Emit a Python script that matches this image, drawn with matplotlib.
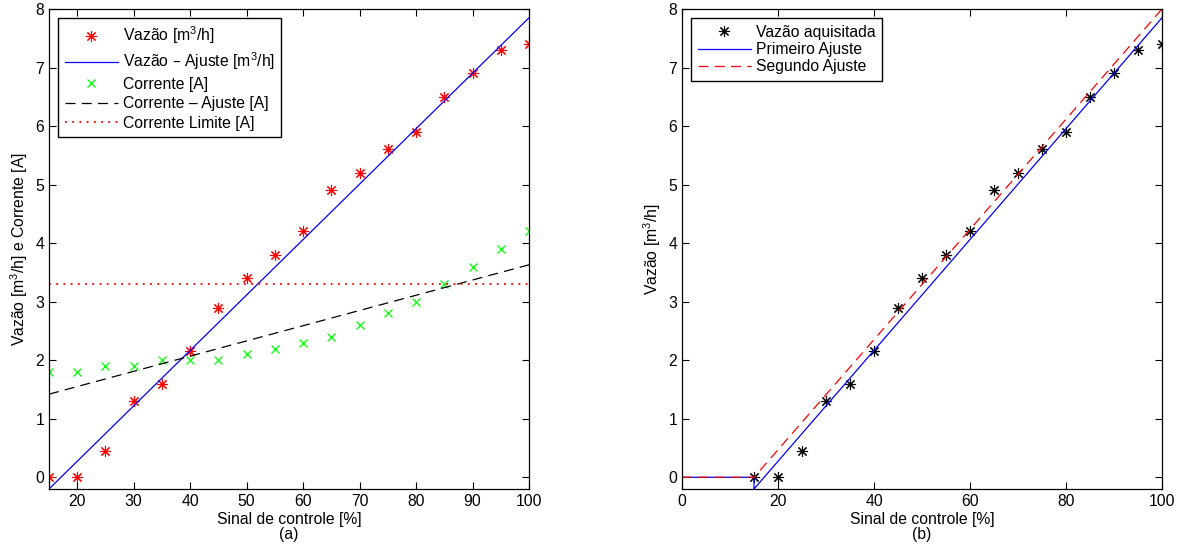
import matplotlib.pyplot as plt

plt.rcParams['font.family'] = ['Liberation Sans', 'DejaVu Sans']
plt.rcParams['font.size'] = 11.3
plt.rcParams['mathtext.default'] = 'regular'

# dados
sinal = [15, 20, 25, 30, 35, 40, 45, 50, 55, 60, 65, 70, 75, 80, 85, 90, 95, 100]
vazao = [0, 0, 0.45, 1.3, 1.6, 2.15, 2.9, 3.4, 3.8, 4.2, 4.9, 5.2, 5.6, 5.9, 6.5, 6.9, 7.3, 7.4]
corrente = [1.8, 1.8, 1.9, 1.9, 2.0, 2.0, 2.0, 2.1, 2.2, 2.3, 2.4, 2.6, 2.8, 3.0, 3.3, 3.6, 3.9, 4.2]

# ajustes
aj_vazao_x = [15, 100]
aj_vazao_y = [-0.2, 7.85]
aj_corr_x = [15, 100]
aj_corr_y = [1.42, 3.63]
corr_limite = 3.3

aj1_x = [0, 15, 15, 100]
aj1_y = [0, 0, -0.2, 7.85]
aj2_x = [0, 15, 100]
aj2_y = [0, 0, 8.0]

asterisco = (8, 2, 0)

fig = plt.figure(figsize=(11.86, 5.57), dpi=100)
ax1 = fig.add_axes([49 / 1186, 1 - 489 / 557, 480 / 1186, 480 / 557])
ax2 = fig.add_axes([682 / 1186, 1 - 489 / 557, 480 / 1186, 480 / 557])

# (a)
ax1.plot(sinal, vazao, ls='none', marker=asterisco, color='red', ms=8, mew=0.8, label='Vazão [m$^3$/h]')
ax1.plot(aj_vazao_x, aj_vazao_y, color='blue', lw=0.9, label='Vazão – Ajuste [m$^3$/h]')
ax1.plot(sinal, corrente, ls='none', marker='x', color='#00ff00', ms=6, mew=0.9, label='Corrente [A]')
ax1.plot(aj_corr_x, aj_corr_y, color='black', lw=0.9, ls=(0, (8, 5)), label='Corrente – Ajuste [A]')
ax1.axhline(corr_limite, color='red', lw=1.3, ls=(0, (1, 3)), label='Corrente Limite [A]')
ax1.set_xlim(15, 100)
ax1.set_ylim(-0.2, 8)
ax1.set_xticks(range(20, 101, 10))
ax1.set_yticks(range(0, 9))
ax1.set_xlabel('Sinal de controle [%]\n(a)', labelpad=2, linespacing=1.05)
ax1.set_ylabel('Vazão [m$^3$/h] e Corrente [A]', labelpad=4)
ax1.legend(loc='upper left', fancybox=False, edgecolor='black', framealpha=1,
           handlelength=3.4, borderpad=0.4, labelspacing=0.28, handletextpad=0.3,
           borderaxespad=0.6)

# (b)
ax2.plot(sinal, vazao, ls='none', marker=asterisco, color='black', ms=8, mew=0.8, label='Vazão aquisitada')
ax2.plot(aj1_x, aj1_y, color='blue', lw=0.9, label='Primeiro Ajuste')
ax2.plot(aj2_x, aj2_y, color='red', lw=0.9, ls=(0, (8, 5)), label='Segundo Ajuste')
ax2.set_xlim(0, 100)
ax2.set_ylim(-0.2, 8)
ax2.set_xticks(range(0, 101, 20))
ax2.set_yticks(range(0, 9))
ax2.set_xlabel('Sinal de controle [%]\n(b)', labelpad=2, linespacing=1.05)
ax2.set_ylabel('Vazão [m$^3$/h]', labelpad=4)
ax2.legend(loc='upper left', fancybox=False, edgecolor='black', framealpha=1,
           handlelength=3.4, borderpad=0.4, labelspacing=0.15, handletextpad=0.3,
           borderaxespad=0.6)

for ax in (ax1, ax2):
    ax.tick_params(direction='in', top=True, right=True, length=5, width=0.8, labelsize=11.3)
    for s in ax.spines.values():
        s.set_linewidth(0.9)

plt.savefig('out.png', dpi=100)
